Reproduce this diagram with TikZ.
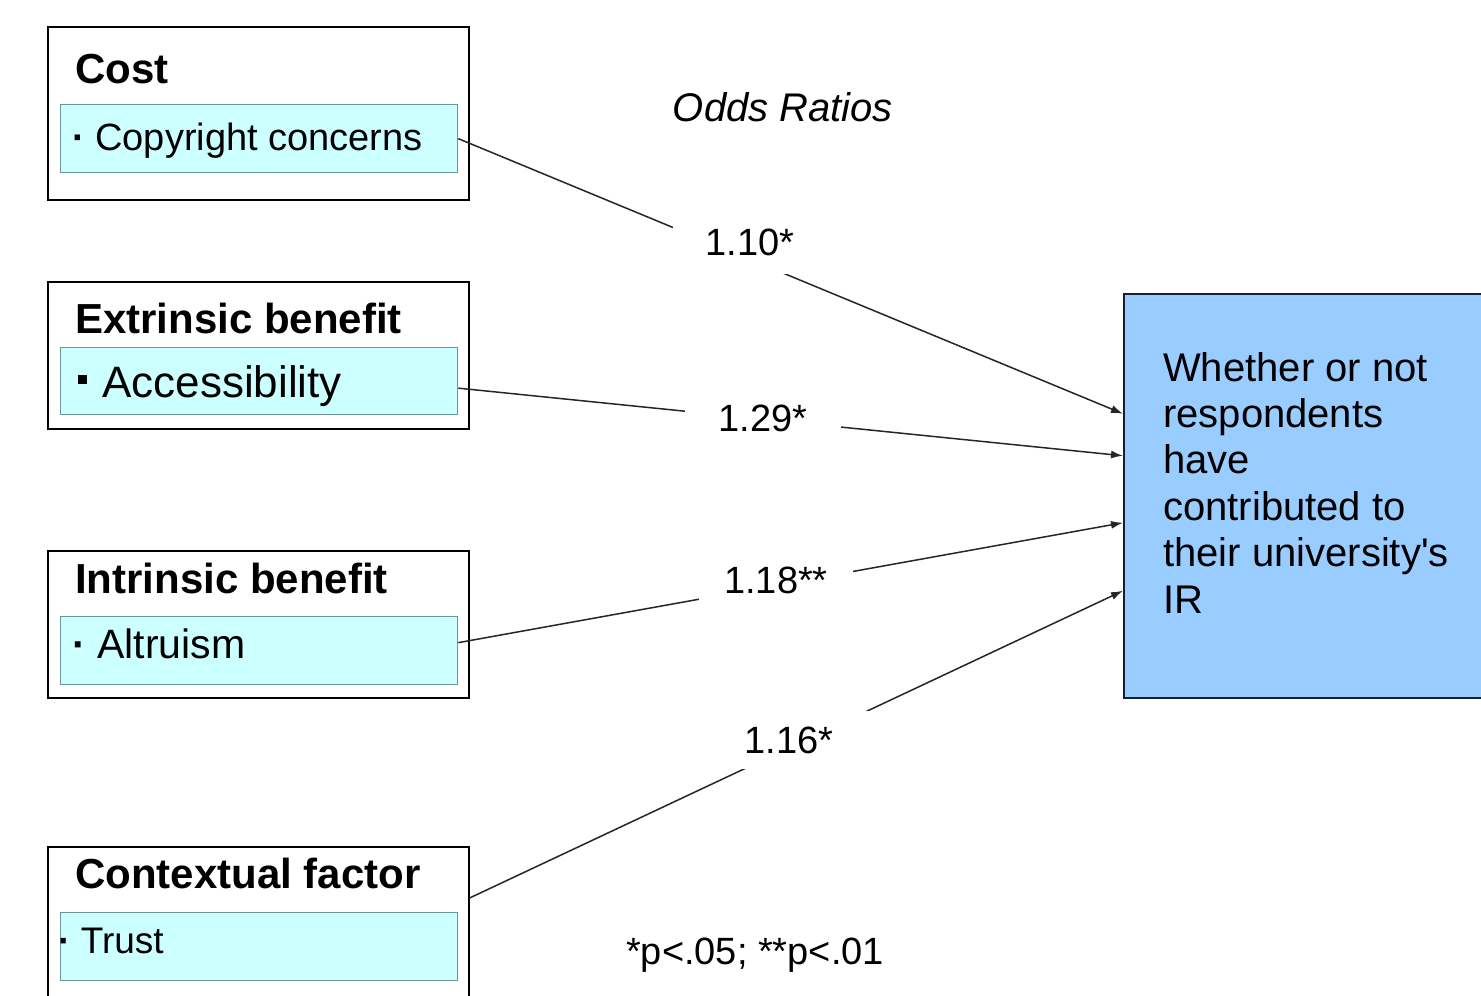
\documentclass[tikz,border=0pt]{standalone}
\usepackage{fontspec}
\setmainfont{Liberation Sans}
\usetikzlibrary{arrows.meta}
\definecolor{innerfill}{RGB}{204,255,255}
\definecolor{innerline}{RGB}{110,150,150}
\definecolor{dvfill}{RGB}{153,204,255}
\definecolor{dvline}{RGB}{20,30,60}
\begin{document}
\begin{tikzpicture}[x=1pt,y=-1pt,
  outerbox/.style={draw=black,line width=1.6pt,fill=white,anchor=north west,inner sep=0pt,minimum width=421pt},
  innerbox/.style={draw=innerline,line width=1.3pt,fill=innerfill,anchor=north west,inner sep=0pt,minimum width=397pt},
  title/.style={anchor=base west,inner sep=0pt,font=\bfseries\fontsize{42}{48}\selectfont},
  item/.style={anchor=base west,inner sep=0pt},
  coef/.style={fill=white,inner sep=0pt,font=\fontsize{38}{44}\selectfont},
  link/.style={line width=1.5pt,draw=black!85,-{Latex[length=12pt,width=8pt]}}
]
\clip (0,0) rectangle (1481,996);
\fill[white] (0,0) rectangle (1481,996);

% left boxes
\node[outerbox,minimum height=173pt] (cost) at (47,26) {};
\node[innerbox,minimum height=68pt] (cop) at (60,104) {};
\node[title] (costt) at (75,83) {Cost};
\node[item,font=\fontsize{38}{44}\selectfont] (copt) at (72,150) {{\bfseries ·} Copyright concerns};

\node[outerbox,minimum height=147pt] (ext) at (47,281) {};
\node[innerbox,minimum height=67pt] (acc) at (60,347) {};
\node[title] (extt) at (75,333) {Extrinsic benefit};
\node[item,font=\fontsize{44}{50}\selectfont] (acct) at (78,397) {\rule[13pt]{9pt}{9pt}\hspace{15pt}Accessibility};

\node[outerbox,minimum height=147pt] (int) at (47,550) {};
\node[innerbox,minimum height=68pt] (alt) at (60,616) {};
\node[title] (intt) at (75,593) {Intrinsic benefit};
\node[item,font=\fontsize{41}{47}\selectfont] (altt) at (72,658) {{\bfseries ·} Altruism};

\node[outerbox,minimum height=200pt] (ctx) at (47,846) {};
\node[innerbox,minimum height=68pt] (tru) at (60,912) {};
\node[title] (ctxt) at (75,888) {Contextual factor};
\node[item,font=\fontsize{37}{43}\selectfont] (trut) at (58,953) {{\bfseries ·} Trust};

% dependent variable box
\node[draw=dvline,line width=1.5pt,fill=dvfill,anchor=north west,inner sep=0pt,minimum width=420pt,minimum height=404pt] (dv) at (1123,293) {};
\node[anchor=north west,inner sep=0pt,align=left,font=\fontsize{40}{46.4}\selectfont] (dvt) at (1163,352)
  {Whether or not\\respondents\\have\\contributed to\\their university\textquotesingle s\\IR};

% headings
\node[font=\itshape\fontsize{40}{46}\selectfont] (odds) at (783,107) {Odds Ratios};
\node[font=\fontsize{38}{44}\selectfont] (foot) at (755,955) {*p<.05; **p<.01};

% connectors
\draw[link] (cop.east) -- ([yshift=82pt]dv.west);
\draw[link] ([yshift=-7pt]acc.east) -- ([yshift=40pt]dv.west);
\draw[link] ([yshift=8pt]alt.east) -- ([yshift=-27pt]dv.west);
\draw[link] ([yshift=-52pt]ctx.north east) -- ([yshift=-95pt]dv.west);

% coefficient labels
\node[coef,minimum width=154pt,minimum height=64pt] (c1) at (750,242) {1.10*};
\node[coef,minimum width=156pt,minimum height=40pt] (c2) at (763,418) {1.29*};
\node[coef,minimum width=154pt,minimum height=44pt] (c3) at (776,580) {1.18**};
\node[coef,minimum width=162pt,minimum height=58pt] (c4) at (789,740) {1.16*};
\end{tikzpicture}
\end{document}
